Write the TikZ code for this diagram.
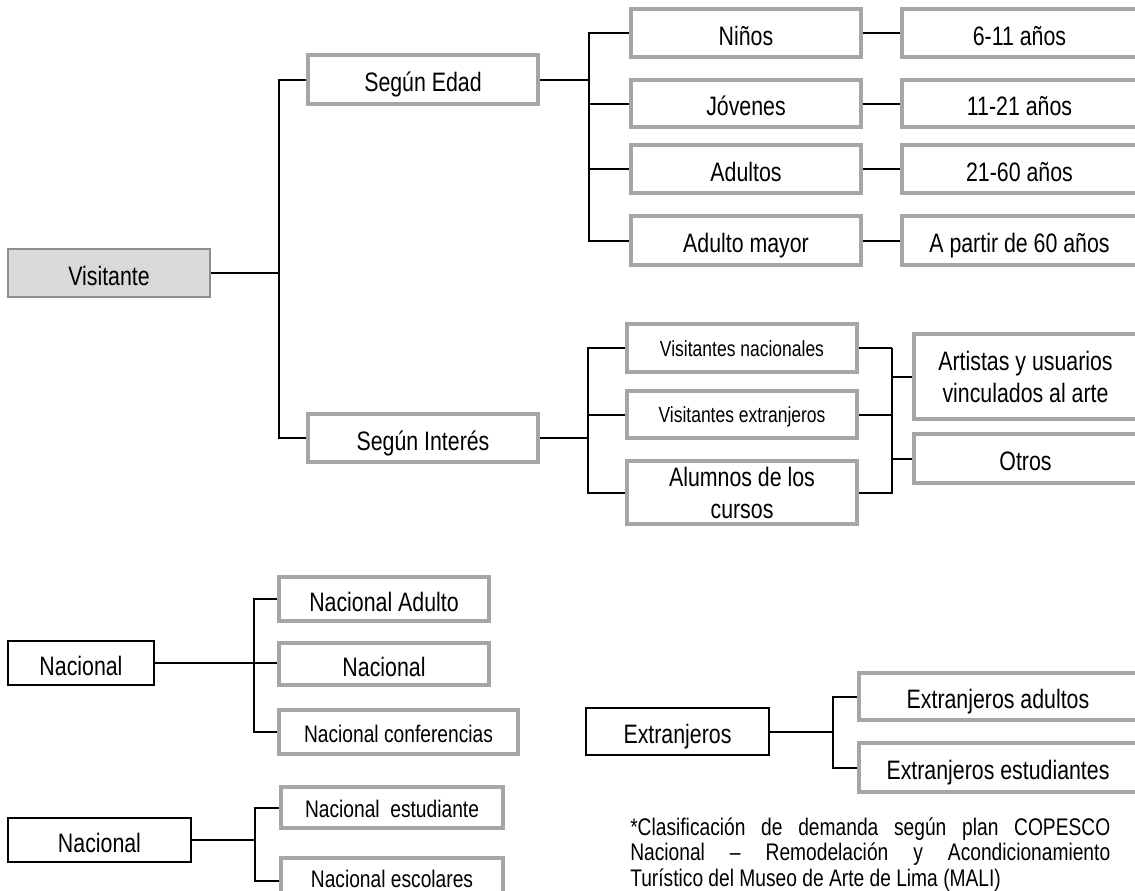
\documentclass[tikz,border=0pt]{standalone}
\usepackage{fontspec}
\setmainfont[FakeStretch=0.8]{Liberation Sans}
\usepackage{xcolor}
\usepackage{tikz}

\definecolor{bordegris}{HTML}{A6A6A6}
\definecolor{fondogris}{HTML}{D9D9D9}

\begin{document}
\begin{tikzpicture}[x=0.75pt, y=-0.75pt,
    every node/.style={inner sep=0pt, align=center},
    box/.style={rectangle, draw=bordegris, line width=2.4pt, text height=18pt, text depth=0pt, font=\fontsize{20}{24}\selectfont},
    twobox/.style={rectangle, draw=bordegris, line width=2.4pt, font=\fontsize{20}{24}\selectfont},
    smallbox/.style={box, text height=12pt, font=\fontsize{16.4}{20}\selectfont},
    midbox/.style={box, text height=15pt, font=\fontsize{18}{22}\selectfont},
    rootbox/.style={box, draw=bordegris!85!black, line width=1.5pt, fill=fondogris},
    blackbox/.style={box, draw=black, line width=2.1pt},
    note/.style={text width=360pt, align=justify, font=\fontsize{18}{19.3}\selectfont},
    link/.style={line width=1.5pt},
]
\useasboundingbox (0,0) rectangle (1135,890);

% Root
\node[rootbox, minimum width=151.5pt, minimum height=36pt] (vis) at (109,273) {Visitante};

% First level
\node[box, minimum width=172.5pt, minimum height=36.75pt] (edad) at (423,79.5) {Según Edad};
\node[box, minimum width=172.5pt, minimum height=36pt] (interes) at (423,438) {Según Interés};

% Age groups
\node[box, minimum width=172.5pt, minimum height=36pt] (ninos) at (746,33) {Niños};
\node[box, minimum width=172.5pt, minimum height=35.25pt] (jovenes) at (746,103.5) {Jóvenes};
\node[box, minimum width=172.5pt, minimum height=36pt] (adultos) at (746,169) {Adultos};
\node[box, minimum width=172.5pt, minimum height=36.75pt] (mayor) at (746,240.5) {Adulto mayor};

% Age ranges (cut by the right edge)
\node[box, minimum width=176.25pt, minimum height=36pt] (rango1) at (1019.5,33) {6-11 años};
\node[box, minimum width=176.25pt, minimum height=35.25pt] (rango2) at (1019.5,103.5) {11-21 años};
\node[box, minimum width=176.25pt, minimum height=36pt] (rango3) at (1019.5,169) {21-60 años};
\node[box, minimum width=176.25pt, minimum height=36.75pt] (rango4) at (1019.5,240.5) {A partir de 60 años};

% Interest groups
\node[smallbox, minimum width=172.5pt, minimum height=36pt] (vnac) at (742,348) {Visitantes nacionales};
\node[smallbox, minimum width=172.5pt, minimum height=35.25pt] (vext) at (742,414.5) {Visitantes extranjeros};
\node[twobox, minimum width=172.5pt, minimum height=47.25pt] (alum) at (742,492.5) {Alumnos de los\\cursos};
\node[twobox, minimum width=167.25pt, minimum height=63.75pt] (artistas) at (1025.5,376.5) {Artistas y usuarios\\vinculados al arte};
\node[box, minimum width=167.25pt, minimum height=36.75pt] (otros) at (1025.5,458.5) {Otros};

% Nacional (1)
\node[blackbox, minimum width=109.5pt, minimum height=33pt] (nac1) at (81,663) {Nacional};
\node[box, minimum width=157.5pt, minimum height=33pt] (nadulto) at (384,599) {Nacional Adulto};
\node[box, minimum width=157.5pt, minimum height=31.5pt] (nnac) at (384,664) {Nacional};
\node[midbox, minimum width=179.25pt, minimum height=33pt] (nconf) at (398.5,732) {Nacional conferencias};

% Nacional (2)
\node[blackbox, minimum width=137.25pt, minimum height=33pt] (nac2) at (99.5,840) {Nacional};
\node[midbox, minimum width=166.5pt, minimum height=30.75pt] (nest) at (392,807.5) {Nacional\ \ estudiante};
\node[midbox, text height=9pt, minimum width=166.5pt, minimum height=34.5pt] (nesc) at (392,881) {Nacional escolares};

% Extranjeros
\node[blackbox, minimum width=137.25pt, minimum height=35.25pt] (extr) at (677.5,731.5) {Extranjeros};
\node[box, minimum width=208.5pt, minimum height=35.25pt] (eadul) at (998,696.5) {Extranjeros adultos};
\node[box, minimum width=208.5pt, minimum height=36.75pt] (eest) at (998,767.5) {Extranjeros estudiantes};

% Footnote
\node[note, anchor=base west] (nota) at (630,835)
  {*Clasificación de demanda según plan COPESCO\linebreak
   Nacional -- Remodelación y Acondicionamiento\linebreak
   Turístico del Museo de Arte de Lima (MALI)};

% Connectors
\draw[link] (vis.east) -- ++(68,0) coordinate (t1);
\draw[link] (edad.west) -| (t1) |- (interes.west);

\draw[link] (edad.east) -- ++(49,0) coordinate (t2);
\draw[link] (ninos.west) -| (t2) |- (mayor.west);
\draw[link] (t2 |- jovenes.west) -- (jovenes.west);
\draw[link] (t2 |- adultos.west) -- (adultos.west);
\draw[link] (ninos.east) -- (rango1.west);
\draw[link] (jovenes.east) -- (rango2.west);
\draw[link] (adultos.east) -- (rango3.west);
\draw[link] (mayor.east) -- (rango4.west);

\draw[link] (interes.east) -- ++(48,0) coordinate (t3);
\draw[link] (vnac.west) -| (t3) |- (alum.west);
\draw[link] (t3 |- vext.west) -- (vext.west);
\draw[link] (vnac.east) -- ++(33,0) coordinate (t4);
\draw[link] (t4) |- (alum.east);
\draw[link] (vext.east) -- (vext.east -| t4);
\draw[link] (t4 |- artistas.west) -- (artistas.west);
\draw[link] (t4 |- otros.west) -- (otros.west);

\draw[link] (nac1.east) -- ++(99,0) coordinate (t5) -- (nac1.east -| nnac.west);
\draw[link] (nadulto.west) -| (t5) |- (nconf.west);

\draw[link] (nac2.east) -- ++(63,0) coordinate (t6);
\draw[link] (nest.west) -| (t6) |- (nesc.west);

\draw[link] (extr.east) -- ++(63,0) coordinate (t7);
\draw[link] (eadul.west) -| (t7) |- (eest.west);
\end{tikzpicture}
\end{document}
